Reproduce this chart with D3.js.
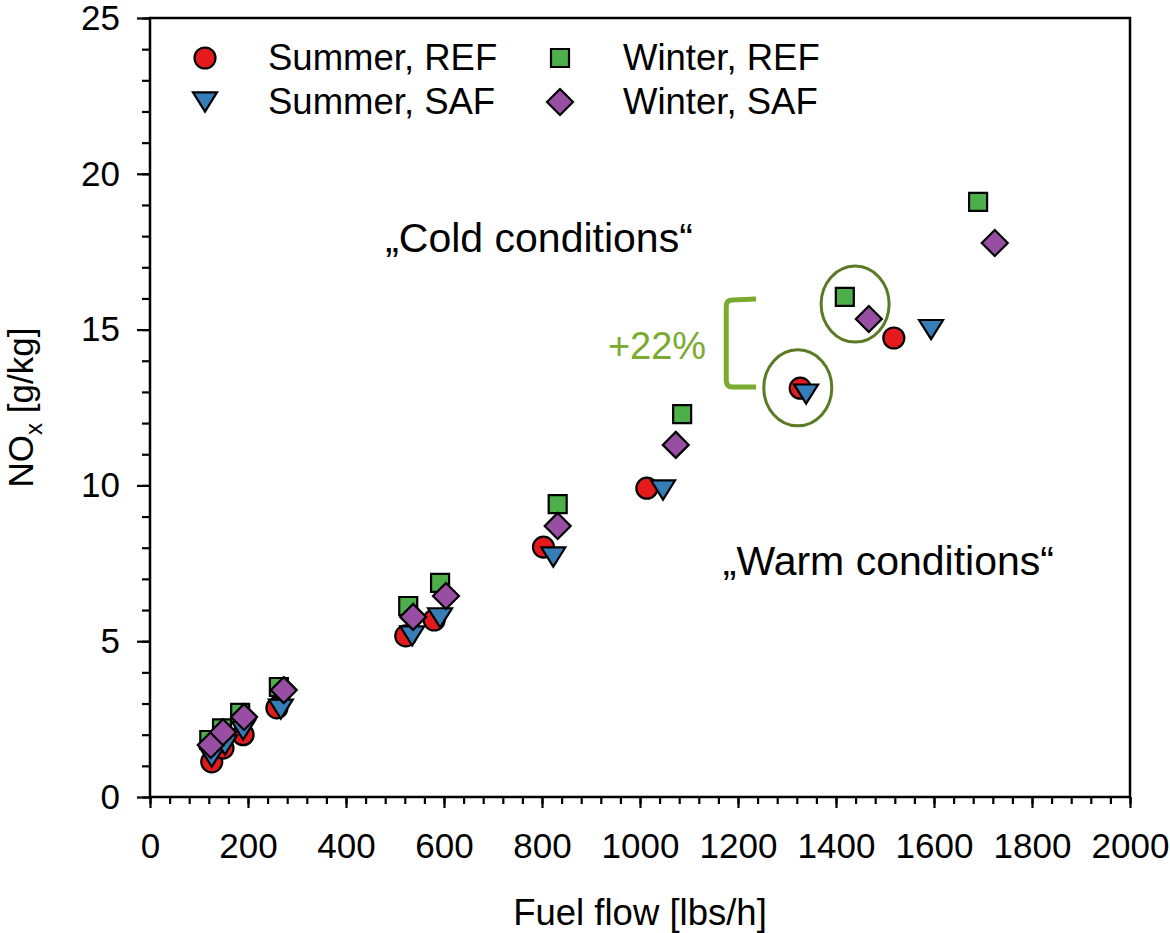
<!DOCTYPE html>
<html>
<head>
<meta charset="utf-8">
<script src="https://cdn.jsdelivr.net/npm/d3@7"></script>
<style>
  body { margin: 0; background: #fff; }
  text { font-family: "Liberation Sans", Arial, sans-serif; }
</style>
</head>
<body>
<div id="chart"></div>
<script>
// fuel flow [lbs/h] and NOx [g/kg] per series
const summerRefX = [126, 149, 190, 259, 522, 580, 803, 1014, 1327, 1518];
const summerRefY = [1.13, 1.57, 2.0, 2.86, 5.17, 5.68, 8.02, 9.91, 13.12, 14.73];
const summerSafX = [126, 153, 190, 267, 535, 592, 823, 1047, 1339, 1594];
const summerSafY = [1.28, 1.67, 2.15, 2.82, 5.17, 5.75, 7.7, 9.85, 12.93, 15.0];
const winterRefX = [121, 147, 184, 263, 527, 592, 832, 1086, 1418, 1690];
const winterRefY = [1.83, 2.2, 2.7, 3.53, 6.13, 6.87, 9.4, 12.29, 16.05, 19.1];
const winterSafX = [124, 149, 192, 273, 537, 604, 832, 1073, 1467, 1724];
const winterSafY = [1.67, 2.08, 2.57, 3.43, 5.78, 6.45, 8.7, 11.3, 15.34, 17.78];

const seriesNames = ["Summer, REF", "Summer, SAF", "Winter, REF", "Winter, SAF"];
const xTicks = [0, 200, 400, 600, 800, 1000, 1200, 1400, 1600, 1800, 2000];
const yTicks = [0, 5, 10, 15, 20, 25];

const config = {
  width: 1170,
  height: 933,
  margin: { top: 18, right: 40, bottom: 136, left: 150 },
};
const w = config.width - config.margin.left - config.margin.right;
const h = config.height - config.margin.top - config.margin.bottom;

const svg = d3.select("#chart").append("svg")
  .attr("width", config.width)
  .attr("height", config.height);
const g = svg.append("g")
  .attr("transform", `translate(${config.margin.left},${config.margin.top})`);

const x = d3.scaleLinear().domain([0, 2000]).range([0, w]);
const y = d3.scaleLinear().domain([0, 25]).range([h, 0]);

const fontSize = 35;

// minor ticks
g.append("g")
  .attr("transform", `translate(0,${h})`)
  .call(d3.axisBottom(x).tickValues(d3.range(0, 2001, 40)).tickSize(7).tickFormat(""))
  .call(ax => ax.select(".domain").remove());
g.append("g")
  .call(d3.axisLeft(y).tickValues(d3.range(0, 26, 1)).tickSize(8).tickFormat(""))
  .call(ax => ax.select(".domain").remove());

// major ticks + labels
const xAxis = g.append("g")
  .attr("transform", `translate(0,${h})`)
  .call(d3.axisBottom(x).tickValues(xTicks).tickSize(11).tickPadding(25).tickFormat(d3.format("d")));
const yAxis = g.append("g")
  .call(d3.axisLeft(y).tickValues(yTicks).tickSize(13).tickPadding(17));

g.selectAll(".tick line").attr("stroke", "#000").attr("stroke-width", 2.2);
[xAxis, yAxis].forEach(ax => {
  ax.select(".domain").remove();
  ax.selectAll("text").attr("font-size", fontSize).attr("fill", "#000")
    .style("font-family", "'Liberation Sans', Arial, sans-serif");
});

// frame
g.append("rect")
  .attr("x", 0).attr("y", 0).attr("width", w).attr("height", h)
  .attr("fill", "none").attr("stroke", "#000").attr("stroke-width", 2.5);

// axis titles
svg.append("text")
  .attr("x", config.margin.left + w / 2)
  .attr("y", 925)
  .attr("text-anchor", "middle")
  .attr("font-size", 36.5)
  .text("Fuel flow [lbs/h]");

const yTitle = svg.append("text")
  .attr("transform", `translate(33,${config.margin.top + h / 2}) rotate(-90)`)
  .attr("text-anchor", "middle")
  .attr("font-size", fontSize);
yTitle.append("tspan").text("NO");
yTitle.append("tspan").attr("font-size", 24).attr("dy", 9).text("x");
yTitle.append("tspan").attr("dy", -9).text(" [g/kg]");

// marker shapes (size in px)
function markerPath(type, s) {
  if (type === "circle") {
    return d3.symbol(d3.symbolCircle, Math.PI * s * s / 4)();
  }
  if (type === "square") {
    const a = s / 2;
    return `M${-a},${-a}H${a}V${a}H${-a}Z`;
  }
  if (type === "diamond") {
    const a = s / 2;
    return `M0,${-a}L${a},0L0,${a}L${-a},0Z`;
  }
  // downward triangle
  const a = s / 2, hh = s * 0.8;
  return `M${-a},${-hh / 2}L${a},${-hh / 2}L0,${hh / 2}Z`;
}

const series = [
  { name: seriesNames[0], xs: summerRefX, ys: summerRefY, type: "circle", size: 21, color: "#e41a1c" },
  { name: seriesNames[1], xs: summerSafX, ys: summerSafY, type: "triangle", size: 24, color: "#377eb8" },
  { name: seriesNames[2], xs: winterRefX, ys: winterRefY, type: "square", size: 18, color: "#4daf4a" },
  { name: seriesNames[3], xs: winterSafX, ys: winterSafY, type: "diamond", size: 26, color: "#984ea3" },
];

series.forEach(s => {
  const pts = s.xs.map((v, i) => ({ x: v, y: s.ys[i] }));
  g.append("g").selectAll("path")
    .data(pts)
    .enter()
    .append("path")
    .attr("d", markerPath(s.type, s.size))
    .attr("transform", d => `translate(${x(d.x)},${y(d.y)})`)
    .attr("fill", s.color)
    .attr("stroke", "#000")
    .attr("stroke-width", 2.2);
});

// legend
const legendPos = [
  { mx: 55, ty: 0 }, { mx: 55, ty: 1 }, { mx: 410, ty: 0 }, { mx: 410, ty: 1 },
];
series.forEach((s, i) => {
  const lg = g.append("g")
    .attr("transform", `translate(${legendPos[i].mx},${40 + legendPos[i].ty * 44})`);
  lg.append("path")
    .attr("d", markerPath(s.type, s.size))
    .attr("fill", s.color)
    .attr("stroke", "#000")
    .attr("stroke-width", 2.2);
  lg.append("text")
    .attr("x", 63)
    .attr("y", 12)
    .attr("font-size", 36.5)
    .text(s.name);
});

// annotations
g.append("text")
  .attr("x", x(480)).attr("y", y(17.5))
  .attr("font-size", 41)
  .text("\u201ECold conditions\u201C");
g.append("text")
  .attr("x", x(1169)).attr("y", y(7.12))
  .attr("font-size", 41)
  .text("\u201EWarm conditions\u201C");

const olive = "#5b7a26";
[[1439, 15.82], [1322, 13.13]].forEach(c => {
  g.append("ellipse")
    .attr("cx", x(c[0])).attr("cy", y(c[1]))
    .attr("rx", 34).attr("ry", 38)
    .attr("fill", "none")
    .attr("stroke", olive)
    .attr("stroke-width", 3);
});

const lime = "#7aab2f";
const bx = x(1176), bx2 = x(1237), by1 = y(15.98), by2 = y(13.16);
g.append("path")
  .attr("d", `M${bx2},${by1}L${bx + 6},${by1 + 1}Q${bx},${by1 + 1} ${bx},${by1 + 7}L${bx},${by2 - 7}Q${bx},${by2} ${bx + 6},${by2}L${bx2},${by2}`)
  .attr("fill", "none")
  .attr("stroke", lime)
  .attr("stroke-width", 5);
g.append("text")
  .attr("x", x(1135)).attr("y", y(14.06))
  .attr("text-anchor", "end")
  .attr("font-size", 38)
  .attr("fill", lime)
  .text("+22%");
</script>
</body>
</html>
